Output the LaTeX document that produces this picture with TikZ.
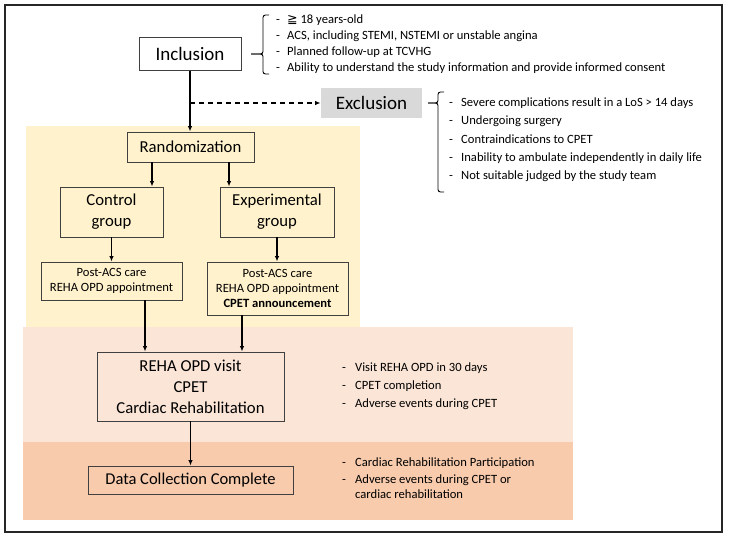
\documentclass[tikz,border=0pt]{standalone}
\usepackage{fontspec}
\setmainfont{Carlito}
\newfontfamily\symfont{DejaVu Sans}
\usetikzlibrary{arrows.meta,calc}
\definecolor{panelyellow}{HTML}{FFF2CC}
\definecolor{panelpink}{HTML}{FBE5D6}
\definecolor{panelorange}{HTML}{F8CBAD}
\definecolor{exclgray}{HTML}{D9D9D9}
\definecolor{boxline}{HTML}{404040}

\begin{document}
\begin{tikzpicture}[x=1pt,y=-1pt,
  box/.style={draw=boxline,line width=0.9pt,inner sep=0pt,align=center},
  big/.style={font=\fontsize{19}{22}\selectfont},
  mid/.style={font=\fontsize{16.7}{21}\selectfont},
  small/.style={font=\fontsize{12.6}{15}\selectfont},
  arr/.style={line width=1.2pt,-{Latex[length=5.5pt,width=4.5pt]}},
  item/.style={anchor=base west,inner sep=0pt,font=\fontsize{12.6}{14}\selectfont},
  brace/.style={line width=0.9pt,rounded corners=2.5pt}]
\useasboundingbox (0,0) rectangle (729,540);

% background bands
\fill[panelyellow] (26,126) rectangle (360,327);
\fill[panelpink] (23,327) rectangle (573,442);
\fill[panelorange] (23,442) rectangle (573,520);

% outer frame
\draw[line width=2.2pt,black!85] (5,5) rectangle (722,532);

% flow boxes
\node[box,big,minimum width=102pt,minimum height=33pt] (incl) at (190,54) {Inclusion};
\node[box,big,draw=none,fill=exclgray,minimum width=101pt,minimum height=30pt] (excl) at (371.5,103) {Exclusion};
\node[box,mid,minimum width=127pt,minimum height=30pt] (rand) at (190.5,147) {Randomization};
\node[box,mid,minimum width=103pt,minimum height=50pt] (ctl) at (111.5,212) {Control\\group};
\node[box,mid,minimum width=114pt,minimum height=50pt] (exp) at (277,212) {Experimental\\group};
\node[box,small,minimum width=141pt,minimum height=38pt] (pc) at (111.5,281) {Post-ACS care\\REHA OPD appointment};
\node[box,small,minimum width=141pt,minimum height=53pt] (pe) at (277.5,288.5) {Post-ACS care\\REHA OPD appointment\\\textbf{CPET announcement}};
\node[box,mid,minimum width=187pt,minimum height=69pt] (reha) at (190.5,386.5) {REHA OPD visit\\CPET\\Cardiac Rehabilitation};
\node[box,font=\fontsize{16.5}{20}\selectfont,minimum width=205pt,minimum height=28pt] (data) at (190.5,480) {Data Collection Complete};

% connectors
\draw[arr] (incl.south) -- (incl.south |- rand.north);
\coordinate (split) at (incl.south |- excl.west);
\draw[arr,dash pattern=on 5pt off 4pt] (split) -- (excl.west);
\draw[arr] ([xshift=-38.5pt]rand.south) -- ([xshift=-38.5pt]rand.south |- ctl.north);
\draw[arr] ([xshift=38.5pt]rand.south) -- ([xshift=38.5pt]rand.south |- exp.north);
\draw[arr] (ctl.south) -- (pc.north);
\draw[arr] (exp.south) -- (exp.south |- pe.north);
\draw[arr] ([xshift=33.5pt]pc.south) -- ([xshift=33.5pt]pc.south |- reha.north);
\draw[arr] ([xshift=-35.5pt]pe.south) -- ([xshift=-35.5pt]pe.south |- reha.north);
\draw[arr] (reha.south) -- (data.north);

% inclusion criteria
\draw[brace] (269,15) -- (263,15) -- (263,54) -- (251,54);
\draw[brace] (251,54) -- (263,54) -- (263,74) -- (269,74);
\foreach \y/\t in {24/{{\symfont ≧} 18 years-old},
                   40/{ACS, including STEMI, NSTEMI or unstable angina},
                   56/{Planned follow-up at TCVHG},
                   72/{Ability to understand the study information and provide informed consent}}{
  \node[item] at (276,\y) {-};
  \node[item] at (287,\y) {\t};
}

% exclusion criteria
\draw[brace] (444,92) -- (438,92) -- (438,103) -- (428,103);
\draw[brace] (428,103) -- (438,103) -- (438,192) -- (444,192);
\foreach \y/\t in {107/{Severe complications result in a LoS > 14 days},
                   125/{Undergoing surgery},
                   144/{Contraindications to CPET},
                   162/{Inability to ambulate independently in daily life},
                   180/{Not suitable judged by the study team}}{
  \node[item] at (449,\y) {-};
  \node[item] at (461,\y) {\t};
}

% outcomes at the clinic visit
\foreach \y/\t in {371/{Visit REHA OPD in 30 days},
                   389/{CPET completion},
                   407/{Adverse events during CPET}}{
  \node[item] at (342,\y) {-};
  \node[item] at (355,\y) {\t};
}

% outcomes at study end
\node[item] at (342,466) {-};
\node[item] at (355,466) {Cardiac Rehabilitation Participation};
\node[item] at (342,483) {-};
\node[item] at (355,483) {Adverse events during CPET or};
\node[item] at (355,498) {cardiac rehabilitation};
\end{tikzpicture}
\end{document}
